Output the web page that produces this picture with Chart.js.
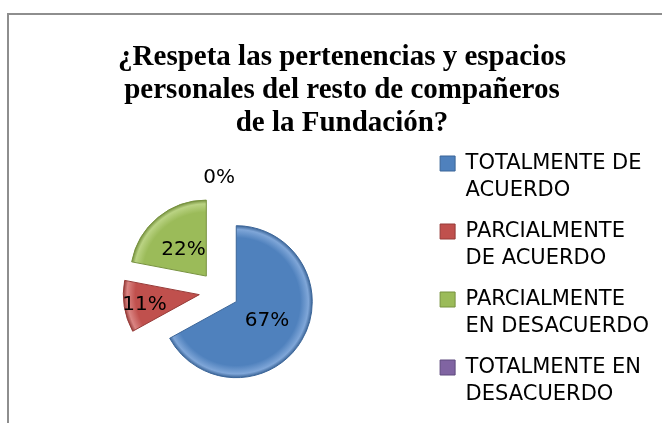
<!DOCTYPE html>
<html lang="es">
<head>
<meta charset="utf-8">
<title>Pertenencias y espacios personales</title>
<script src="https://cdn.jsdelivr.net/npm/chart.js@4.4.1/dist/chart.umd.min.js"></script>
<style>
    html, body { margin: 0; padding: 0; background: #fff; width: 662px; height: 423px; overflow: hidden; }
    #marco { position: absolute; left: 7px; top: 13px; width: 700px; height: 470px; border: 2px solid #8e8e8e; }
    #grafico { position: absolute; left: 8px; top: 14px; }
</style>
</head>
<body>
<div id="marco"></div>
<canvas id="grafico" width="668" height="440"></canvas>
<script>
"use strict";
/*    DATOS */
const titulo = [
    "¿Respeta las pertenencias y espacios",
    "personales del resto de compañeros",
    "de la Fundación?"
];
const categorias = [
    ["TOTALMENTE DE", "ACUERDO"],
    ["PARCIALMENTE", "DE ACUERDO"],
    ["PARCIALMENTE", "EN DESACUERDO"],
    ["TOTALMENTE EN", "DESACUERDO"]
];
const porcentajes = [67, 11, 22, 0];

/*    COLORES */
const colores = ["#4F81BD", "#C0504D", "#9BBB59", "#8064A2"];
const coloresClaros = ["#7FA6D8", "#DA8583", "#BAD383", "#A08BC0"];
const coloresOscuros = ["#3B6598", "#963B38", "#77923F", "#5F4A7E"];

/* SEPARAR LAS PORCIONES (como el pastel "despiezado" de Excel) */
const pluginDespiece = {
    id: "despiece",
    afterLayout(chart, args, opts) {
        const area = chart.chartArea;
        area.left -= opts.corrimiento;
        area.width = area.right - area.left;
    },
    afterDatasetUpdate(chart, args, opts) {
        const ctx = chart.ctx;
        args.meta.data.forEach((arco, i) => {
            const medio = (arco.startAngle + arco.endAngle) / 2;
            arco.x += Math.cos(medio) * opts.distancia;
            arco.y += Math.sin(medio) * opts.distancia;
            const r = arco.outerRadius;
            const degradado = ctx.createRadialGradient(arco.x, arco.y, 0, arco.x, arco.y, r);
            degradado.addColorStop(0, colores[i]);
            degradado.addColorStop(0.84, colores[i]);
            degradado.addColorStop(0.95, coloresClaros[i]);
            degradado.addColorStop(1, coloresOscuros[i]);
            arco.options = Object.assign({}, arco.options, { backgroundColor: degradado });
        });
    }
};

/* ETIQUETAS DE PORCENTAJE */
const pluginEtiquetas = {
    id: "etiquetas",
    afterDatasetsDraw(chart, args, opts) {
        const ctx = chart.ctx;
        const meta = chart.getDatasetMeta(0);
        const total = porcentajes.reduce((a, b) => a + b, 0);
        ctx.save();
        ctx.font = opts.fuente;
        ctx.fillStyle = "#000";
        ctx.textAlign = "center";
        ctx.textBaseline = "middle";
        meta.data.forEach((arco, i) => {
            const valor = porcentajes[i];
            const medio = (arco.startAngle + arco.endAngle) / 2;
            const fraccion = valor / total;
            let d;
            if (valor === 0) {
                d = arco.outerRadius + 19;
            }
            else if (fraccion < 0.15) {
                d = arco.outerRadius * 0.73;
            }
            else {
                d = arco.outerRadius * 0.47;
            }
            const texto = Math.round(valor * 100 / total) + "%";
            ctx.fillText(texto, arco.x + Math.cos(medio) * d, arco.y + Math.sin(medio) * d + 1);
        });
        ctx.restore();
    }
};

/* GRÁFICA */
function inicializarGrafica() {
    const canvas = document.getElementById("grafico");
    if (!canvas)
        return;
    Chart.defaults.font.family = "'DejaVu Sans', sans-serif";
    Chart.defaults.color = "#000";
    new Chart(canvas, {
        type: "pie",
        data: {
            labels: categorias,
            datasets: [
                {
                    data: porcentajes,
                    backgroundColor: colores,
                    borderColor: coloresOscuros,
                    borderWidth: 1
                }
            ]
        },
        options: {
            responsive: false,
            animation: false,
            radius: 76,
            layout: {
                padding: { left: 17, right: 17, top: 0, bottom: 11 }
            },
            plugins: {
                title: {
                    display: true,
                    text: titulo,
                    color: "#000",
                    font: { family: "'Liberation Serif', 'Times New Roman', serif", size: 29, weight: "bold", lineHeight: 33 / 29 },
                    padding: { top: 27, bottom: 0 }
                },
                legend: {
                    position: "right",
                    align: "start",
                    fullSize: false,
                    labels: {
                        boxWidth: 15,
                        boxHeight: 15,
                        padding: 13,
                        color: "#000",
                        font: { size: 21, lineHeight: 27.5 / 21 }
                    }
                },
                tooltip: { enabled: false },
                despiece: { distancia: 20, corrimiento: 14 },
                etiquetas: { fuente: "20px 'DejaVu Sans', sans-serif" }
            }
        },
        plugins: [pluginDespiece, pluginEtiquetas]
    });
}

document.addEventListener("DOMContentLoaded", () => {
    inicializarGrafica();
});
</script>
</body>
</html>
